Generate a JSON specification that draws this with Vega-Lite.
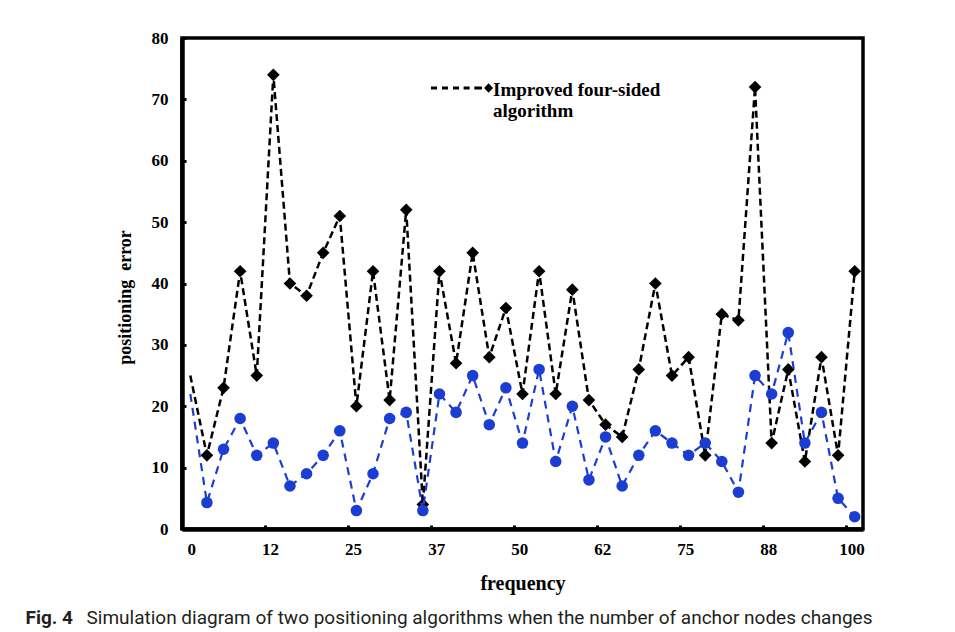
{
  "$schema": "https://vega.github.io/schema/vega-lite/v6.json",
  "width": 681,
  "height": 491,
  "autosize": {"type": "none"},
  "padding": {"left": 182, "top": 38, "right": 92, "bottom": 103},
  "background": "white",
  "data": {
    "values": [
      {"x": 1.25, "improved": 25, "other": 22},
      {"x": 3.75, "improved": 12, "other": 4.3},
      {"x": 6.25, "improved": 23, "other": 13},
      {"x": 8.75, "improved": 42, "other": 18},
      {"x": 11.25, "improved": 25, "other": 12},
      {"x": 13.75, "improved": 74, "other": 14},
      {"x": 16.25, "improved": 40, "other": 7},
      {"x": 18.75, "improved": 38, "other": 9},
      {"x": 21.25, "improved": 45, "other": 12},
      {"x": 23.75, "improved": 51, "other": 16},
      {"x": 26.25, "improved": 20, "other": 3},
      {"x": 28.75, "improved": 42, "other": 9},
      {"x": 31.25, "improved": 21, "other": 18},
      {"x": 33.75, "improved": 52, "other": 19},
      {"x": 36.25, "improved": 4, "other": 3},
      {"x": 38.75, "improved": 42, "other": 22},
      {"x": 41.25, "improved": 27, "other": 19},
      {"x": 43.75, "improved": 45, "other": 25},
      {"x": 46.25, "improved": 28, "other": 17},
      {"x": 48.75, "improved": 36, "other": 23},
      {"x": 51.25, "improved": 22, "other": 14},
      {"x": 53.75, "improved": 42, "other": 26},
      {"x": 56.25, "improved": 22, "other": 11},
      {"x": 58.75, "improved": 39, "other": 20},
      {"x": 61.25, "improved": 21, "other": 8},
      {"x": 63.75, "improved": 17, "other": 15},
      {"x": 66.25, "improved": 15, "other": 7},
      {"x": 68.75, "improved": 26, "other": 12},
      {"x": 71.25, "improved": 40, "other": 16},
      {"x": 73.75, "improved": 25, "other": 14},
      {"x": 76.25, "improved": 28, "other": 12},
      {"x": 78.75, "improved": 12, "other": 14},
      {"x": 81.25, "improved": 35, "other": 11},
      {"x": 83.75, "improved": 34, "other": 6},
      {"x": 86.25, "improved": 72, "other": 25},
      {"x": 88.75, "improved": 14, "other": 22},
      {"x": 91.25, "improved": 26, "other": 32},
      {"x": 93.75, "improved": 11, "other": 14},
      {"x": 96.25, "improved": 28, "other": 19},
      {"x": 98.75, "improved": 12, "other": 5},
      {"x": 101.25, "improved": 42, "other": 2}
    ]
  },
  "resolve": {"axis": {"x": "independent"}},
  "layer": [
    {
      "mark": {"type": "line", "color": "black", "strokeWidth": 2.5, "strokeDash": [7, 4]},
      "encoding": {
        "x": {
          "field": "x",
          "type": "quantitative",
          "scale": {"domain": [0, 102.5], "nice": false, "zero": false},
          "axis": {
            "title": "frequency",
            "values": [0, 12.5, 25, 37.5, 50, 62.5, 75, 87.5, 100],
            "labelExpr": "datum.value == 12.5 ? '12' : datum.value == 37.5 ? '37' : datum.value == 62.5 ? '62' : datum.value == 87.5 ? '88' : format(datum.value, 'd')",
            "labelOffset": 5,
            "labelPadding": 16,
            "titleY": 54,
            "titleBaseline": "middle",
            "titleFontSize": 20
          }
        },
        "y": {
          "field": "improved",
          "type": "quantitative",
          "scale": {"domain": [0, 80], "nice": false},
          "axis": {
            "title": "positioning\u00a0 error",
            "values": [0, 10, 20, 30, 40, 50, 60, 70, 80],
            "labelPadding": 18,
            "titleX": -57,
            "titleY": 259,
            "titleAngle": -90,
            "titleBaseline": "middle",
            "titleAlign": "center",
            "titleFontSize": 18
          }
        }
      }
    },
    {
      "transform": [{"filter": "datum.x > 2"}],
      "mark": {"type": "point", "shape": "diamond", "filled": true, "size": 160, "opacity": 1, "strokeWidth": 0},
      "encoding": {
        "x": {"field": "x", "type": "quantitative", "axis": null},
        "y": {"field": "improved", "type": "quantitative"},
        "color": {
          "datum": "Improved four-sided algorithm",
          "scale": {"range": ["black"]},
          "legend": {
            "title": null,
            "orient": "none",
            "legendX": 249,
            "legendY": 21,
            "padding": 0,
            "symbolType": "M-1,-0.113H-0.806V-0.017H-1Z M-0.645,-0.113H-0.452V-0.017H-0.645Z M-0.29,-0.113H-0.097V-0.017H-0.29Z M0.052,-0.113H0.245V-0.017H0.052Z M0.397,-0.113H0.645V-0.017H0.397Z M0.858,-0.215L1.003,-0.065L0.858,0.085L0.713,-0.065Z",
            "symbolSize": 3844,
            "symbolStrokeWidth": 0,
            "symbolFillColor": "black",
            "symbolOpacity": 1,
            "labelExpr": "['Improved four-sided', 'algorithm']",
            "labelFont": "Liberation Serif",
            "labelFontSize": 19,
            "labelFontWeight": "bold",
            "labelColor": "black",
            "labelLimit": 400,
            "labelOffset": 0,
            "labelBaseline": "middle"
          }
        }
      }
    },
    {
      "mark": {"type": "line", "color": "#1c3dd2", "strokeWidth": 2.2, "strokeDash": [8, 6]},
      "encoding": {
        "x": {
          "field": "x",
          "type": "quantitative",
          "axis": {
            "orient": "bottom",
            "domain": false,
            "ticks": false,
            "labels": false,
            "title": "Simulation diagram of two positioning algorithms when the number of anchor nodes changes",
            "titleX": -96,
            "titleY": 94,
            "titleAlign": "left",
            "titleAnchor": "start",
            "titleBaseline": "alphabetic",
            "titleFont": "Roboto",
            "titleFontSize": 19,
            "titleFontWeight": "normal",
            "titleColor": "#231f20",
            "titleLimit": 900
          }
        },
        "y": {"field": "other", "type": "quantitative"}
      }
    },
    {
      "transform": [{"filter": "datum.x > 2"}],
      "mark": {"type": "point", "shape": "circle", "filled": true, "size": 133, "opacity": 1, "color": "#1c3dd2", "strokeWidth": 0},
      "encoding": {
        "x": {
          "field": "x",
          "type": "quantitative",
          "axis": {
            "orient": "bottom",
            "domain": false,
            "ticks": false,
            "labels": false,
            "title": "Fig. 4",
            "titleX": -157,
            "titleY": 94,
            "titleAlign": "left",
            "titleAnchor": "start",
            "titleBaseline": "alphabetic",
            "titleFont": "Roboto",
            "titleFontSize": 19,
            "titleFontWeight": "bold",
            "titleColor": "#231f20"
          }
        },
        "y": {"field": "other", "type": "quantitative"}
      }
    }
  ],
  "config": {
    "view": {"stroke": "black", "strokeWidth": 3.5},
    "axis": {
      "grid": false,
      "domainColor": "black",
      "domainWidth": 4.5,
      "tickColor": "black",
      "tickWidth": 3,
      "tickSize": -4,
      "labelFont": "Liberation Serif",
      "labelFontSize": 17,
      "labelFontWeight": "bold",
      "labelColor": "black",
      "titleFont": "Liberation Serif",
      "titleFontWeight": "bold",
      "titleColor": "black"
    }
  }
}
